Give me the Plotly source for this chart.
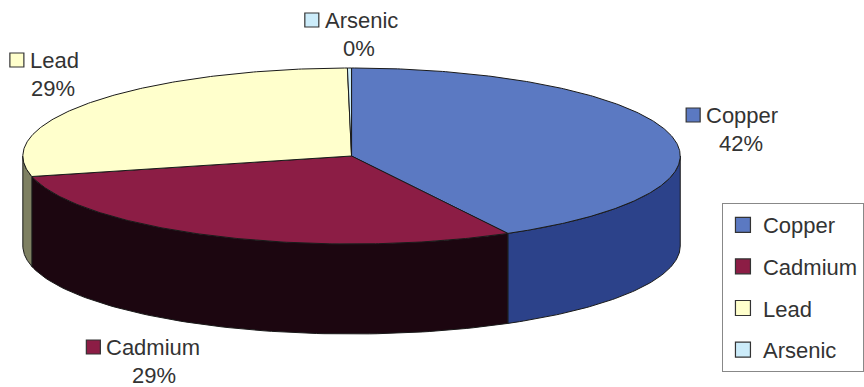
import numpy as np
import plotly.graph_objects as go

# ---- data ----
metals = ["Copper", "Cadmium", "Lead", "Arsenic"]
shares = [42.2, 29.2, 28.6, 0.2]
top_colors = ["#5B79C2", "#8C1D45", "#FFFFCC", "#CCECFA"]
side_colors = ["#2C428A", "#1C0610", "#7E8062", "#8FB0C0"]

# ---- geometry (pixel-like data space) ----
W, H = 864, 387
cx, cy, a, b, depth = 354, 156, 331, 88, 90
edge = "#1a1a1a"

def pt(theta_deg, dy=0.0):
    t = np.radians(theta_deg)
    return cx + a * np.cos(t), cy - b * np.sin(t) + dy

total = sum(shares)
starts, ends = [], []
cur = 90.0
for v in shares:
    sweep = 360.0 * v / total
    starts.append(cur)
    ends.append(cur - sweep)
    cur -= sweep

fig = go.Figure()

# side walls (front half only: theta in [-180, 0])
for i, m in enumerate(metals):
    lo, hi = max(ends[i], -180.0), min(starts[i], 0.0)
    if hi <= lo:
        continue
    th = np.linspace(lo, hi, 80)
    xt, yt = pt(th)
    xb, yb = pt(th[::-1], depth)
    xs = np.concatenate([xt, xb, xt[:1]])
    ys = np.concatenate([yt, yb, yt[:1]])
    fig.add_trace(go.Scatter(x=xs, y=ys, mode="lines", fill="toself",
                             fillcolor=side_colors[i], line=dict(color=edge, width=1),
                             hoverinfo="skip", showlegend=False))

# top faces
for i, m in enumerate(metals):
    th = np.linspace(starts[i], ends[i], max(4, int(abs(starts[i] - ends[i]) * 2)))
    xa, ya = pt(th)
    xs = np.concatenate([[cx], xa, [cx]])
    ys = np.concatenate([[cy], ya, [cy]])
    fig.add_trace(go.Scatter(x=xs, y=ys, mode="lines", fill="toself",
                             fillcolor=top_colors[i], line=dict(color=edge, width=1),
                             hoverinfo="skip", showlegend=False))

# data labels: key square, name, percentage
label_pos = {  # key x, key y, pct center x, pct y
    "Copper": (698, 115, 746, 143),
    "Cadmium": (94, 347, 155, 375),
    "Lead": (17, 60, 53, 88),
    "Arsenic": (314, 20, 362, 48),
}
font = dict(family="Liberation Sans, Arial, sans-serif", size=22, color="#333333")
for i, m in enumerate(metals):
    kx, ky, px, py = label_pos[m]
    fig.add_trace(go.Scatter(x=[kx], y=[ky], mode="markers",
                             marker=dict(symbol="square", size=14, color=top_colors[i],
                                         line=dict(color="#333333", width=1.2)),
                             hoverinfo="skip", showlegend=False))
    fig.add_annotation(x=kx + 11, y=ky, text=m, showarrow=False, xanchor="left",
                       yanchor="middle", font=font)
    pct = round(100 * shares[i] / total)
    fig.add_annotation(x=px, y=py, text=f"{pct}%", showarrow=False, xanchor="center",
                       yanchor="middle", font=font)

# legend entries
for i, m in enumerate(metals):
    fig.add_trace(go.Scatter(x=[None], y=[None], mode="markers", name=m,
                             legendgroup=m,
                             marker=dict(symbol="square", size=15, color=top_colors[i],
                                         line=dict(color="#333333", width=1.2))))

fig.update_layout(
    width=W, height=H,
    margin=dict(l=0, r=0, t=0, b=0),
    paper_bgcolor="white", plot_bgcolor="white",
    xaxis=dict(range=[0, W], visible=False, fixedrange=True),
    yaxis=dict(range=[H, 0], visible=False, fixedrange=True),
    showlegend=True,
    legend=dict(x=727 / W, y=1 - 203 / H, xanchor="left", yanchor="top",
                bordercolor="#888888", borderwidth=1, bgcolor="white",
                font=font, tracegroupgap=10, itemwidth=30),
)

fig.write_html("out.html")
